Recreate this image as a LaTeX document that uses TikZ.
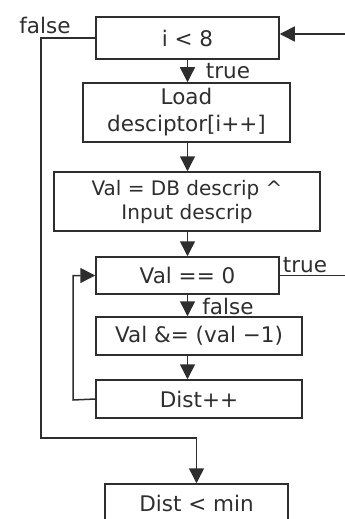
\documentclass[tikz,border=0pt]{standalone}
\usepackage{fontspec}
\setmainfont{DejaVu Sans}
\usetikzlibrary{arrows.meta}
\definecolor{ln}{HTML}{2E2E2E}
\definecolor{tx}{HTML}{2E2E2E}
\begin{document}
\begin{tikzpicture}[x=1pt,y=-1pt,
  box/.style={draw=ln,line width=1.5pt,inner sep=0pt,text=tx,align=center,
    font=\fontsize{21.5}{27}\selectfont},
  smallbox/.style={box,font=\fontsize{20}{24}\selectfont},
  lbl/.style={inner sep=0pt,text=tx,font=\fontsize{21.5}{24}\selectfont},
  conn/.style={draw=ln,line width=1.5pt},
  arr/.style={conn,-{Triangle[length=15pt,width=15pt]}}]
\useasboundingbox (0,0) rectangle (345,519);
\clip (0,0) rectangle (345,519);
\node[box,minimum width=183pt,minimum height=42pt] (b1) at (187.5,38) {i < 8};
\node[box,minimum width=207pt,minimum height=59pt] (b2) at (186.5,112.5) {Load\\desciptor[i++]};
\node[smallbox,minimum width=266pt,minimum height=59pt] (b3) at (187,201.5) {Val = DB descrip \^{}\\Input descrip};
\node[box,minimum width=183pt,minimum height=37pt] (b4) at (187.5,275.5) {Val == 0};
\node[box,minimum width=206pt,minimum height=38pt] (b5) at (199,336) {Val \&= (val −1)};
\node[box,minimum width=206pt,minimum height=38pt] (b6) at (199,399) {Dist++};
\node[box,minimum width=183pt,minimum height=38pt] (b7) at (196.5,503) {Dist < min};

\coordinate (inR) at (345,34);
\coordinate (outR) at (345,275.5);
\coordinate (fx) at (41,438);
\coordinate (lx) at (73,400);

\draw[arr] (inR) -- (inR -| b1.east);
\draw[arr] (b1.south) -- (b2.north -| b1.south);
\draw[arr] (b2.south -| b1.south) -- (b3.north -| b1.south);
\draw[arr] (b3.south -| b1.south) -- (b4.north);
\draw[arr] (b4.south) -- (b5.north -| b4.south);
\draw[arr] (b5.south -| b4.south) -- (b6.north -| b4.south);
\draw[conn] (b4.east) -- (outR);
\draw[arr] (b6.west) -- (lx) |- (b4.west);
\draw[arr] (b1.west) -| (fx) -| (b7.north);

\node[lbl] (lf1) at (45,25) {false};
\node[lbl] (lt1) at (228,71) {true};
\node[lbl] (lt2) at (305,265) {true};
\node[lbl] (lf2) at (228,306) {false};
\end{tikzpicture}
\end{document}
